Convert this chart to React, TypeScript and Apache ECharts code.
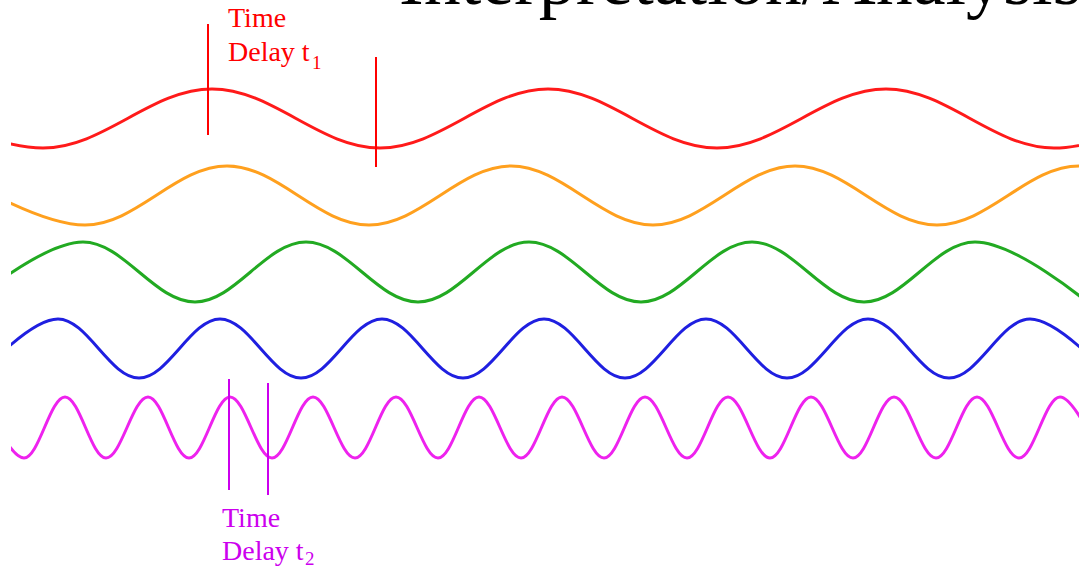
import React, { useEffect, useRef } from "react";
import * as echarts from "echarts";

// Extremes (peaks / troughs) of each wave: [time, level]
// Levels are in picture units, top = 0. Points just outside the frame keep the wave shape at the edges.
const redWave: number[][] = [
  [-125, 89], [43, 148], [212, 89], [380, 148], [548, 89], [717, 148], [886, 89], [1054, 148], [1222, 89],
];
const orangeWave: number[][] = [
  [-57, 166], [85, 225], [227, 166], [369, 225], [511, 166], [653, 225], [795, 166], [937, 225], [1079, 166], [1221, 225],
];
const greenWave: number[][] = [
  [-28, 302], [83, 242], [195, 302], [306, 242], [418, 302], [529, 242], [641, 302], [752, 242], [864, 302], [975, 242], [1087, 302],
];
const blueWave: number[][] = [
  [-23, 378], [58, 319], [139, 378], [220, 319], [301, 378], [382, 319], [463, 378], [544, 319], [625, 378], [706, 319],
  [787, 378], [868, 319], [949, 378], [1030, 319], [1111, 378],
];
const magentaWave: number[][] = [
  [-18, 397], [24, 458], [65, 397], [106, 458], [148, 397], [189, 458], [230, 397], [272, 458], [313, 397], [355, 458],
  [396, 397], [438, 458], [479, 397], [521, 458], [562, 397], [604, 458], [645, 397], [687, 458], [728, 397], [770, 458],
  [811, 397], [853, 458], [894, 397], [936, 458], [977, 397], [1019, 458], [1060, 397], [1101, 458],
];

// Time-delay markers: [time, top, bottom]
const delay1Markers: number[][] = [[208, 24, 135], [376, 57, 167]];
const delay2Markers: number[][] = [[229, 379, 490], [268, 383, 495]];

const titleText = "Interpretation/Analysis";
const delayWord = "Time";
const delayLabel = "Delay t";
const sub1 = "1";
const sub2 = "2";

const SERIF = "'Liberation Serif', 'Times New Roman', Times, serif";
const RED = "#ff0000";
const PURPLE = "#cc00ee";

export default function App() {
  const ref = useRef<HTMLDivElement>(null);
  useEffect(() => {
    if (!ref.current) return;
    const chart = echarts.init(ref.current, undefined, { renderer: "svg" });
    const wave = (name: string, data: number[][], color: string) => ({
      name,
      type: "line",
      data,
      smooth: 0.36,
      smoothMonotone: "x",
      symbol: "none",
      clip: true,
      lineStyle: { color, width: 3 },
      silent: true,
    });
    const marker = (name: string, m: number[], color: string) => ({
      name,
      type: "line",
      data: [[m[0], m[1]], [m[0], m[2]]],
      symbol: "none",
      clip: false,
      lineStyle: { color, width: 2 },
      silent: true,
    });
    const text = (t: string, x: number, y: number, size: number, color: string) => ({
      type: "text",
      x,
      y,
      style: {
        text: t,
        font: `${size}px ${SERIF}`,
        fill: color,
        textAlign: "left",
        textVerticalAlign: "middle",
      },
      silent: true,
    });
    chart.setOption({
      animation: false,
      backgroundColor: "#ffffff",
      grid: { left: 12.5, right: 0, top: 0, bottom: 0 },
      xAxis: { type: "value", min: 12.5, max: 1079, show: false },
      yAxis: { type: "value", min: 0, max: 569, inverse: true, show: false },
      series: [
        wave("red", redWave, "#ff1a1a"),
        wave("orange", orangeWave, "#ffa01e"),
        wave("green", greenWave, "#22aa22"),
        wave("blue", blueWave, "#1f1fe0"),
        wave("magenta", magentaWave, "#ee22ee"),
        ...delay1Markers.map((m, i) => marker("t1-" + i, m, RED)),
        ...delay2Markers.map((m, i) => marker("t2-" + i, m, PURPLE)),
      ],
      graphic: [
        text(titleText, 399, -21, 74, "#000000"),
        text(delayWord, 228, 17.5, 28, RED),
        text(delayLabel, 228, 51.5, 28, RED),
        text(sub1, 312, 62, 19, RED),
        text(delayWord, 222, 517.5, 28, PURPLE),
        text(delayLabel, 222, 550.5, 28, PURPLE),
        text(sub2, 305, 558, 19, PURPLE),
      ],
    });
    return () => chart.dispose();
  }, []);
  return (
    <div
      ref={ref}
      style={{ position: "absolute", left: 0, top: 0, width: 1079, height: 569, background: "#fff" }}
    />
  );
}
